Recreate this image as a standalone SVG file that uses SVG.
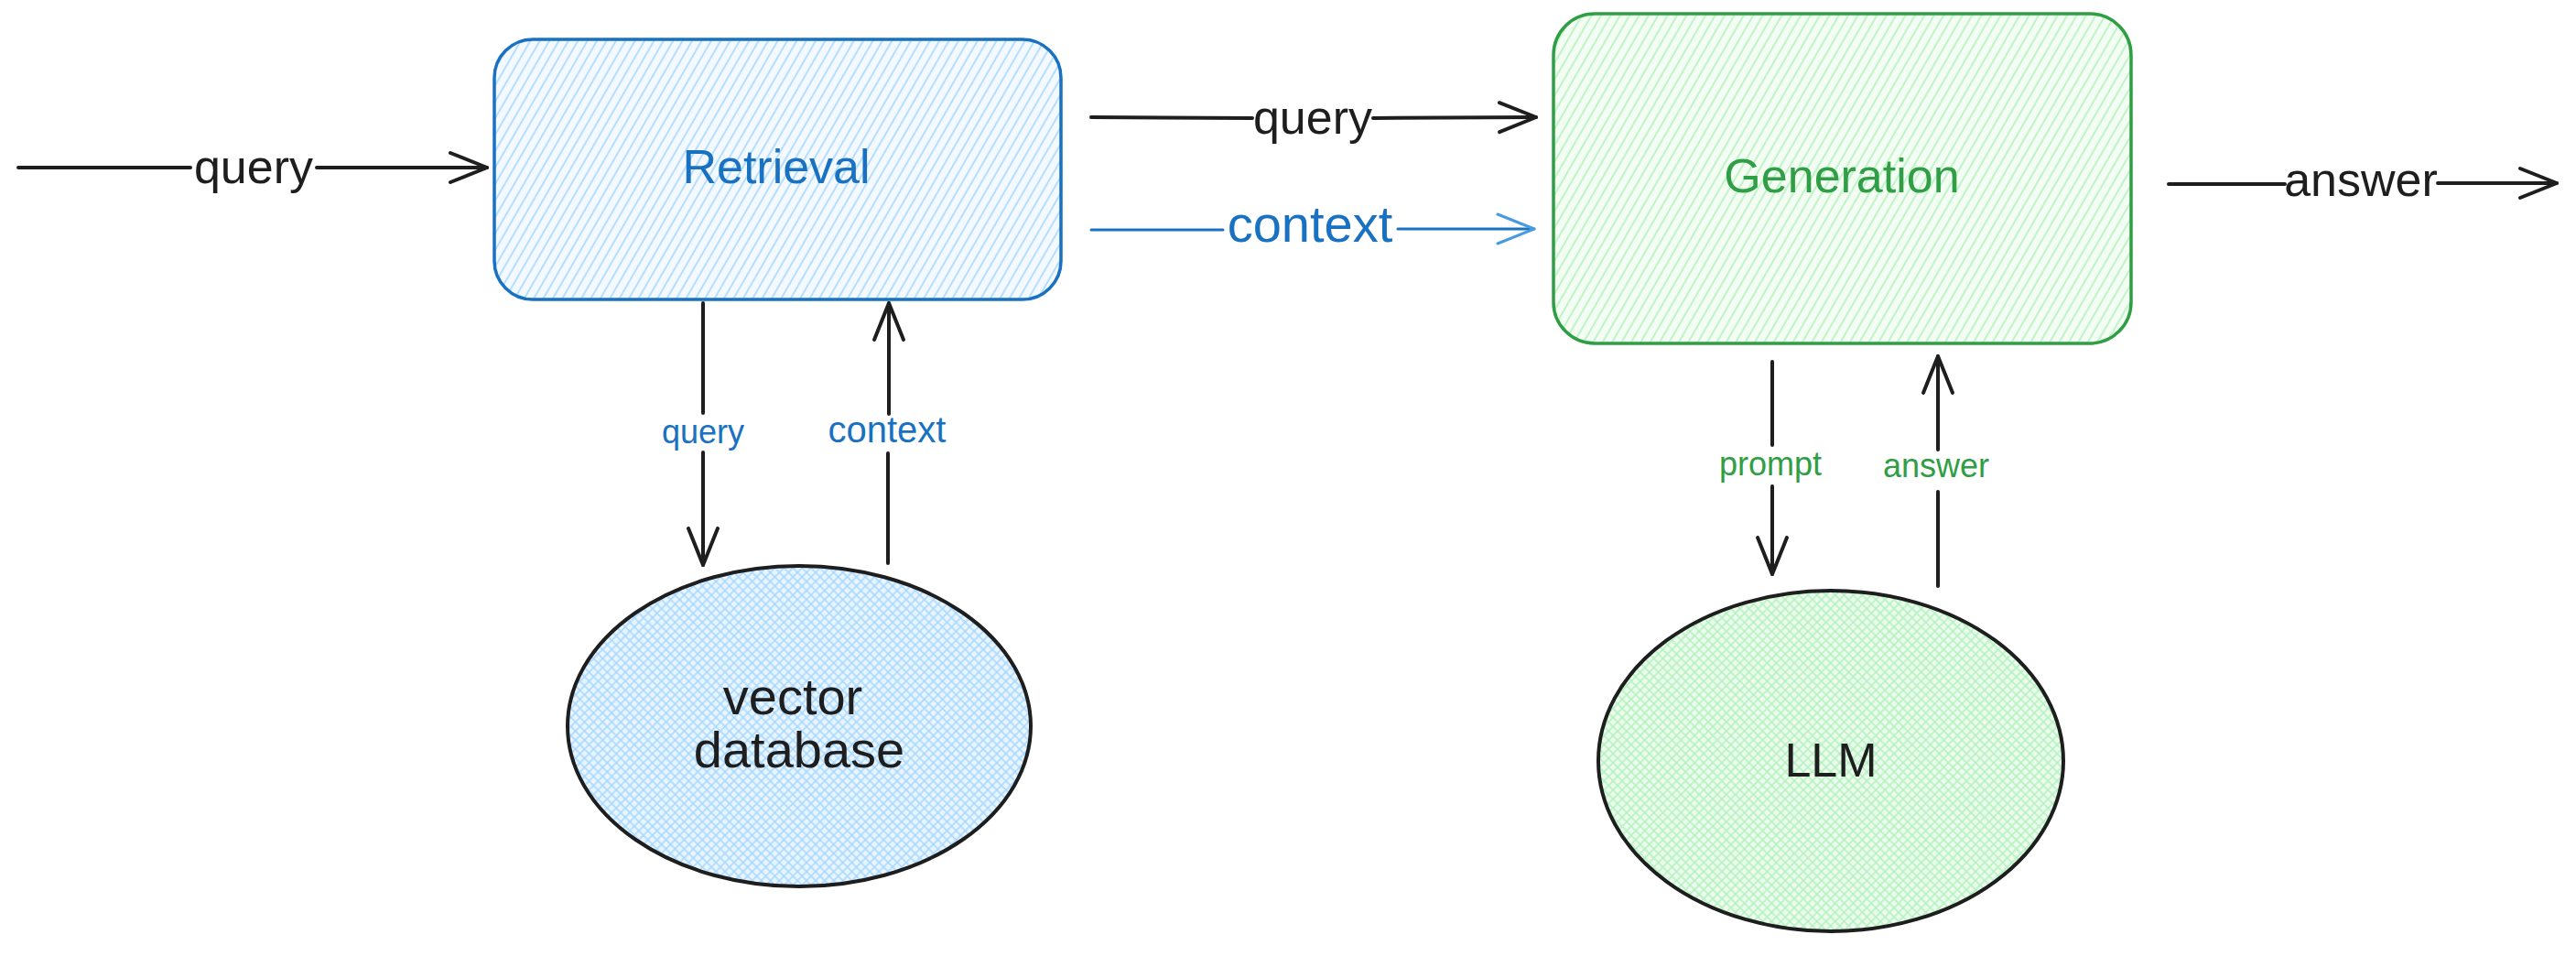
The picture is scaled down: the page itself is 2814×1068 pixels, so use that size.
<svg xmlns="http://www.w3.org/2000/svg" width="2814" height="1068" viewBox="0 0 2814 1068">
<style>
text{font-family:"Liberation Sans","DejaVu Sans",sans-serif;}
.lbl{font-size:52px;fill:#1e1e1e;text-anchor:middle;}
.node{font-size:52px;text-anchor:middle;}
.small{font-size:36px;text-anchor:middle;}
.blk{stroke:#1e1e1e;stroke-width:4;fill:none;stroke-linecap:round;}
.blu{stroke:#1971c2;stroke-width:3;fill:none;stroke-linecap:round;}
</style>
<defs>
<pattern id="hBlue" width="9" height="9" patternUnits="userSpaceOnUse" patternTransform="rotate(30)">
<rect width="9" height="9" fill="#f3f9ff"/>
<line x1="2" y1="0" x2="2" y2="9" stroke="#a5d8ff" stroke-width="1.6"/>
</pattern>
<pattern id="hGreen" width="9" height="9" patternUnits="userSpaceOnUse" patternTransform="rotate(30)">
<rect width="9" height="9" fill="#f3fdf4"/>
<line x1="2" y1="0" x2="2" y2="9" stroke="#b2f2bb" stroke-width="1.6"/>
</pattern>
<pattern id="xBlue" width="7" height="7" patternUnits="userSpaceOnUse" patternTransform="rotate(45)">
<rect width="7" height="7" fill="#e8f4ff"/>
<line x1="1" y1="0" x2="1" y2="7" stroke="#a5d8ff" stroke-width="1.5"/>
<line x1="0" y1="1" x2="7" y2="1" stroke="#a5d8ff" stroke-width="1.5"/>
</pattern>
<pattern id="xGreen" width="7" height="7" patternUnits="userSpaceOnUse" patternTransform="rotate(45)">
<rect width="7" height="7" fill="#ebfbee"/>
<line x1="1" y1="0" x2="1" y2="7" stroke="#b2f2bb" stroke-width="1.5"/>
<line x1="0" y1="1" x2="7" y2="1" stroke="#b2f2bb" stroke-width="1.5"/>
</pattern>
<marker id="aBlk" markerUnits="userSpaceOnUse" viewBox="0 0 46 36" markerWidth="46" markerHeight="36" refX="43" refY="18" orient="auto" overflow="visible">
<path d="M3,2 L43,18 L3,34" fill="none" stroke="#1e1e1e" stroke-width="4" stroke-linecap="round" stroke-linejoin="round"/>
</marker>
<marker id="aBlu" markerUnits="userSpaceOnUse" viewBox="0 0 46 36" markerWidth="46" markerHeight="36" refX="43" refY="18" orient="auto" overflow="visible">
<path d="M3,2 L43,18 L3,34" fill="none" stroke="#4a9ae0" stroke-width="3" stroke-linecap="round" stroke-linejoin="round"/>
</marker>
</defs>
<rect width="2814" height="1068" fill="#ffffff"/>

<g id="retrieval">
<rect x="540" y="43" width="619" height="284" rx="42" ry="42" fill="url(#hBlue)" stroke="#1971c2" stroke-width="3.5"/>
<text class="node" x="848" y="200" fill="#1971c2">Retrieval</text>
</g>
<g id="generation">
<rect x="1697" y="15" width="631" height="360" rx="45" ry="45" fill="url(#hGreen)" stroke="#2f9e44" stroke-width="3.5"/>
<text class="node" x="2012" y="210" fill="#2f9e44">Generation</text>
</g>
<g id="vector-database">
<ellipse cx="873" cy="793" rx="253" ry="175" fill="url(#xBlue)" stroke="#1e1e1e" stroke-width="4"/>
<text class="node" x="866" y="780" fill="#1e1e1e" style="font-size:56px">vector</text>
<text class="node" x="873" y="838" fill="#1e1e1e" style="font-size:56px">database</text>
</g>
<g id="llm">
<ellipse cx="2000" cy="831" rx="254" ry="186" fill="url(#xGreen)" stroke="#1e1e1e" stroke-width="4"/>
<text class="node" x="2000" y="848" fill="#1e1e1e">LLM</text>
</g>

<g id="connectors">
<path class="blk" d="M20,183 L208,183"/>
<path class="blk" d="M346,183 L532,183" marker-end="url(#aBlk)"/>
<text class="lbl" x="277" y="200">query</text>
<path class="blk" d="M1192,128 L1368,129"/>
<path class="blk" d="M1500,129 L1678,128" marker-end="url(#aBlk)"/>
<text class="lbl" x="1434" y="146">query</text>
<path class="blu" d="M1192,251 L1336,251"/>
<path class="blu" d="M1527,250 L1676,250" marker-end="url(#aBlu)"/>
<text class="lbl" x="1431" y="264" style="fill:#1971c2;font-size:56px">context</text>
<path class="blk" d="M2369,201 L2496,201"/>
<path class="blk" d="M2663,200 L2793,200" marker-end="url(#aBlk)"/>
<text class="lbl" x="2579" y="214">answer</text>
<path class="blk" d="M768,331 L768,451"/>
<path class="blk" d="M768,494 L768,617" marker-end="url(#aBlk)"/>
<text class="small" x="768" y="484" fill="#1971c2">query</text>
<path class="blk" d="M970,615 L970,495"/>
<path class="blk" d="M971,452 L971,331" marker-end="url(#aBlk)"/>
<text class="small" x="969" y="483" fill="#1971c2" style="font-size:40px">context</text>
<path class="blk" d="M1936,395 L1936,486"/>
<path class="blk" d="M1936,531 L1936,627" marker-end="url(#aBlk)"/>
<text class="small" x="1934" y="519" fill="#2f9e44">prompt</text>
<path class="blk" d="M2117,640 L2117,537"/>
<path class="blk" d="M2117,491 L2117,389" marker-end="url(#aBlk)"/>
<text class="small" x="2115" y="521" fill="#2f9e44">answer</text>
</g>
</svg>
